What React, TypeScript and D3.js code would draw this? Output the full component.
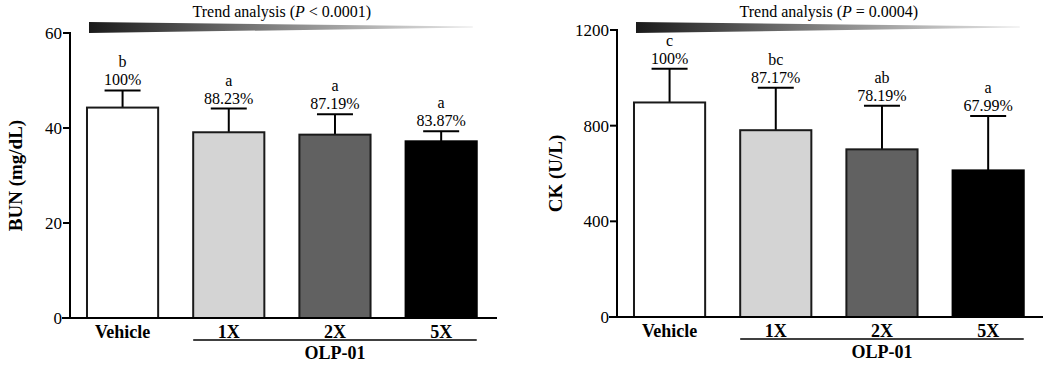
import React from 'react';
import * as d3 from 'd3';

const groups = ['Vehicle', '1X', '2X', '5X'];
const fills = ['#ffffff', '#d4d4d4', '#616161', '#000000'];

const bunMean = [44.3, 39.1, 38.6, 37.2];
const bunErr = [3.6, 5.0, 4.3, 2.1];
const bunPct = ['100%', '88.23%', '87.19%', '83.87%'];
const bunLetters = ['b', 'a', 'a', 'a'];
const bunTicks = [0, 20, 40, 60];

const ckMean = [897, 781, 701, 613];
const ckErr = [141, 178, 182, 227];
const ckPct = ['100%', '87.17%', '78.19%', '67.99%'];
const ckLetters = ['c', 'bc', 'ab', 'a'];
const ckTicks = [0, 400, 800, 1200];

const FONT = 'Liberation Serif, DejaVu Serif, serif';

type PanelProps = {
  id: string;
  axisX: number;
  yTop: number;
  yBottom: number;
  xEnd: number;
  yMax: number;
  ticks: number[];
  mean: number[];
  err: number[];
  pct: string[];
  letters: string[];
  title: string;
  titleX: number;
  trend: React.ReactNode;
};

const Panel = (p: PanelProps) => {
  const x = d3
    .scaleBand<string>()
    .domain(groups)
    .range([p.axisX, p.axisX + 106.2 * 3.99])
    .paddingInner(0.33)
    .paddingOuter(0.16);
  const y = d3.scaleLinear().domain([0, p.yMax]).range([p.yBottom, p.yTop]);
  const bw = x.bandwidth();
  const first = x(groups[0])!;
  const last = x(groups[groups.length - 1])! + bw;
  const olpStart = x(groups[1])!;
  const midY = (p.yTop + p.yBottom) / 2;

  return (
    <g style={{ fontFamily: FONT }}>
      <defs>
        <linearGradient id={`grad-${p.id}`} x1="0" x2="1" y1="0" y2="0">
          <stop offset="0" stopColor="#1a1a1a" />
          <stop offset="0.5" stopColor="#858585" />
          <stop offset="1" stopColor="#e8e8e8" />
        </linearGradient>
      </defs>
      {/* trend wedge */}
      <path
        d={`M${first + 2},22 L${last - 4},26.5 L${last - 4},27.5 L${first + 2},33 Z`}
        fill={`url(#grad-${p.id})`}
      />
      <text x={(first + last) / 2} y={17} textAnchor="middle" fontSize={16}>
        {p.trend}
      </text>

      {/* bars */}
      {groups.map((g, i) => {
        const bx = x(g)!;
        const top = y(p.mean[i]);
        const cap = y(p.mean[i] + p.err[i]);
        const cx = bx + bw / 2;
        return (
          <g key={g}>
            <line x1={cx} x2={cx} y1={top} y2={cap} stroke="#000" strokeWidth={2} />
            <line x1={cx - 18} x2={cx + 18} y1={cap} y2={cap} stroke="#000" strokeWidth={2} />
            <rect
              x={bx}
              y={top}
              width={bw}
              height={p.yBottom - top}
              fill={fills[i]}
              stroke={i === 3 ? '#000' : '#1a1a1a'}
              strokeWidth={2}
            />
            <text x={cx} y={cap - 5} textAnchor="middle" fontSize={16}>
              {p.pct[i]}
            </text>
            <text x={cx} y={cap - 23} textAnchor="middle" fontSize={16}>
              {p.letters[i]}
            </text>
            <text x={cx} y={p.yBottom + 20} textAnchor="middle" fontSize={18} fontWeight="bold">
              {g}
            </text>
          </g>
        );
      })}

      {/* axes */}
      <line x1={p.axisX} x2={p.axisX} y1={p.yBottom + 1} y2={p.yTop - 1} stroke="#000" strokeWidth={2} />
      <line x1={p.axisX - 8} x2={p.xEnd} y1={p.yBottom} y2={p.yBottom} stroke="#000" strokeWidth={2} />
      {p.ticks.map((t) => (
        <g key={t}>
          <line x1={p.axisX - 7} x2={p.axisX} y1={y(t)} y2={y(t)} stroke="#000" strokeWidth={2} />
          <text x={p.axisX - 8} y={y(t)} dy="0.35em" textAnchor="end" fontSize={17}>
            {t}
          </text>
        </g>
      ))}
      <text
        transform={`translate(${p.titleX},${midY}) rotate(-90)`}
        textAnchor="middle"
        fontSize={19}
        fontWeight="bold"
      >
        {p.title}
      </text>

      {/* group bracket */}
      <line x1={olpStart} x2={last} y1={p.yBottom + 22} y2={p.yBottom + 22} stroke="#000" strokeWidth={1.5} />
      <text
        x={(olpStart + last) / 2}
        y={p.yBottom + 41}
        textAnchor="middle"
        fontSize={18}
        fontWeight="bold"
      >
        OLP-01
      </text>
    </g>
  );
};

export default function App() {
  return (
    <svg
      width={1046}
      height={369}
      viewBox="0 0 1046 369"
      style={{ position: 'absolute', left: 0, top: 0, background: '#fff' }}
    >
      <Panel
        id="bun"
        axisX={70}
        yTop={33}
        yBottom={318}
        xEnd={497}
        yMax={60}
        ticks={bunTicks}
        mean={bunMean}
        err={bunErr}
        pct={bunPct}
        letters={bunLetters}
        title="BUN (mg/dL)"
        titleX={22}
        trend={
          <>
            Trend analysis (<tspan fontStyle="italic">P</tspan> {'<'} 0.0001)
          </>
        }
      />
      <Panel
        id="ck"
        axisX={617}
        yTop={30}
        yBottom={317}
        xEnd={1043}
        yMax={1200}
        ticks={ckTicks}
        mean={ckMean}
        err={ckErr}
        pct={ckPct}
        letters={ckLetters}
        title="CK (U/L)"
        titleX={562}
        trend={
          <>
            Trend analysis (<tspan fontStyle="italic">P</tspan> = 0.0004)
          </>
        }
      />
    </svg>
  );
}
